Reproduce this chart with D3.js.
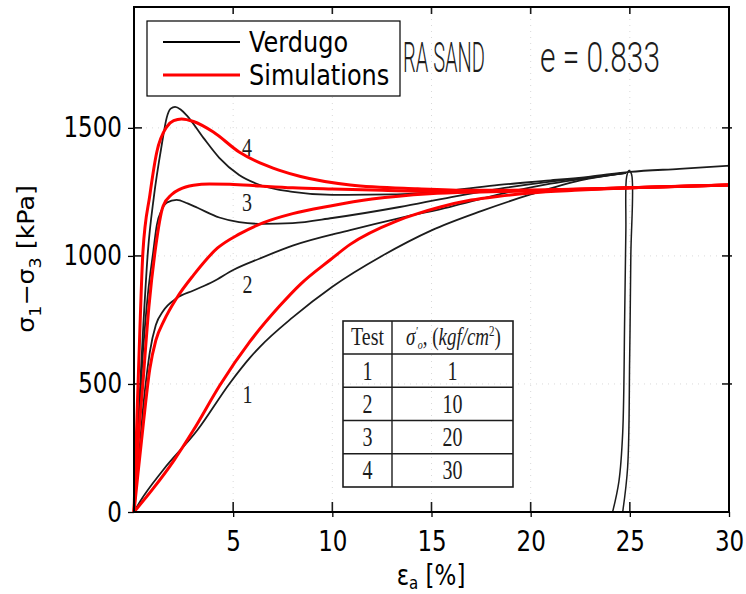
<!DOCTYPE html>
<html>
<head>
<meta charset="utf-8">
<script src="https://cdn.jsdelivr.net/npm/d3@7"></script>
<style>
  body { margin: 0; background: #fff; }
  svg { display: block; }
</style>
</head>
<body>
<svg id="chart" width="746" height="594"></svg>
<script>
// ---- data ---------------------------------------------------------------
const strainTicks = [5, 10, 15, 20, 25, 30];
const stressTicks = [0, 500, 1000, 1500];
const testIds = ["1", "2", "3", "4"];
const confiningPressure = ["1", "10", "20", "30"];   // kgf/cm2

// Verdugo triaxial tests: [axial strain %, deviator stress kPa]
const verdugo1 = [[0,0],[0.3,40],[1.47,164],[3.2,320],[4.84,504],[5.84,602],[6.35,645],[8,760],[10,880],[12.5,1000],[15,1100],[17.5,1175],[20,1240],[22.5,1295],[24.8,1324]];
const verdugo2 = [[0,0],[0.15,130],[0.3,265],[0.45,400],[0.65,540],[0.8,625],[1.1,730],[1.47,785],[2.15,835],[3,865],[4,900],[5,945],[6.35,990],[8,1040],[10.9,1101],[13.5,1150],[15.9,1191],[18.4,1240],[21,1282],[23,1305],[24.8,1324]];
const verdugo3 = [[0,0],[0.2,300],[0.45,620],[0.7,850],[0.97,1016],[1.15,1120],[1.4,1180],[1.65,1208],[2.15,1219],[2.7,1205],[3.2,1188],[4.3,1150],[5.3,1132],[6.5,1125],[8,1128],[10,1148],[13.4,1191],[16,1230],[18.4,1262],[21,1290],[23,1307],[24.8,1324]];
const verdugo4 = [[0,0],[0.2,330],[0.45,700],[0.7,1016],[1.0,1230],[1.4,1434],[1.65,1540],[1.85,1575],[2.07,1582],[2.35,1572],[2.67,1548],[3.5,1461],[4.3,1383],[5.3,1316],[6.35,1277],[8,1250],[10,1238],[13,1240],[16,1256],[18.4,1277],[21,1295],[23,1310],[25,1328],[27.5,1340],[30,1352]];
// unloading branch at the end of the test
const verdugoUnload = [[24.13,0],[24.45,120],[24.64,309],[24.74,762],[24.8,1100],[24.84,1310],[24.96,1334],[25.09,1318],[25.05,1000],[24.99,594],[24.89,176],[24.64,0]];

// model simulations
const sim1 = [[0,0],[1,95],[2,200],[3,320],[4.33,495],[5.84,665],[7.35,805],[8.4,890],[9.9,985],[10.9,1045],[13.2,1135],[14.3,1165],[15.4,1190],[17,1218],[18.4,1233],[20,1246],[22.5,1257],[25,1266],[27.5,1272],[30,1277]];
const sim2 = [[0,0],[0.2,150],[0.45,330],[0.8,560],[1.1,670],[1.5,745],[2.15,835],[3,925],[4.2,1030],[5.3,1085],[6.5,1129],[8,1165],[9.9,1195],[12,1222],[14.9,1243],[17.5,1250],[20,1254],[25,1266],[30,1277]];
const sim3 = [[0,0],[0.2,260],[0.45,504],[0.75,800],[1.06,1016],[1.47,1195],[1.9,1240],[2.3,1260],[3,1276],[3.8,1281],[4.84,1280],[6.35,1273],[8,1266],[10,1261],[12.5,1256],[15,1252],[17.5,1252],[20,1255],[25,1266],[30,1277]];
const sim4 = [[0,0],[0.15,370],[0.3,720],[0.45,1016],[0.8,1238],[1.15,1406],[1.65,1504],[2.0,1528],[2.4,1535],[3,1525],[4,1484],[5.3,1406],[6.35,1363],[7.3,1335],[8.4,1310],[10.9,1277],[14.3,1262],[17,1256],[20,1257],[25,1266],[30,1277]];

const verdugoSeries = [verdugo1, verdugo2, verdugo3, verdugo4];
const simSeries = [sim1, sim2, sim3, sim4];

// ---- layout -------------------------------------------------------------
const svg = d3.select("#chart");
const plot = { left: 134, right: 729, top: 7, bottom: 512 };
const yTop = 1972;

const x = d3.scaleLinear().domain([0, 30]).range([plot.left, plot.right]);
const y = d3.scaleLinear().domain([0, yTop]).range([plot.bottom, plot.top]);

const ink = "#1c1c1c";

// stretched text helper
function label(parent, px, py, txt, opts) {
  const o = Object.assign({ size: 20, family: "'Liberation Serif', serif", sx: 1, sy: 1.3, anchor: "middle", style: "normal", weight: "normal" }, opts || {});
  return parent.append("text")
    .attr("transform", `translate(${px},${py}) scale(${o.sx},${o.sy})`)
    .attr("text-anchor", o.anchor)
    .attr("font-family", o.family)
    .attr("font-size", o.size)
    .attr("font-style", o.style)
    .attr("font-weight", o.weight)
    .attr("fill", o.fill || ink)
    .text(txt);
}

// faint dotted grid of the printed sheet
const grid = svg.append("g").attr("stroke", "#d9d9d9").attr("stroke-width", 1).attr("stroke-dasharray", "1,5");
grid.selectAll("line.v").data([5,10,15,20,25]).join("line")
  .attr("x1", d => x(d)).attr("x2", d => x(d)).attr("y1", plot.top).attr("y2", plot.bottom);
grid.selectAll("line.h").data([500,1000,1500]).join("line")
  .attr("y1", d => y(d)).attr("y2", d => y(d)).attr("x1", plot.left).attr("x2", plot.right);

// printed inner tick marks
const inner = svg.append("g").attr("stroke", ink).attr("stroke-width", 1.6);
inner.selectAll("line.t").data([5,10,15,20,25]).join("line")
  .attr("x1", d => x(d)).attr("x2", d => x(d)).attr("y1", plot.top).attr("y2", plot.top + 7);
inner.selectAll("line.b").data([5,10,15,20,25]).join("line")
  .attr("x1", d => x(d)).attr("x2", d => x(d)).attr("y1", plot.bottom).attr("y2", plot.bottom - 10);
inner.selectAll("line.r").data([500,1000,1500]).join("line")
  .attr("y1", d => y(d)).attr("y2", d => y(d)).attr("x1", plot.right - 7).attr("x2", plot.right + 3);
inner.selectAll("line.l").data([500,1000,1500]).join("line")
  .attr("y1", d => y(d)).attr("y2", d => y(d)).attr("x1", plot.left).attr("x2", plot.left + 8);

// sheet title
const titleFont = "Roboto, 'Open Sans', sans-serif";
label(svg, 403, 72, "RA SAND", { family: titleFont, size: 22, sy: 1.95, anchor: "start", weight: 300 })
  .attr("textLength", 82).attr("lengthAdjust", "spacingAndGlyphs");
label(svg, 540, 72, "e = 0.833", { family: titleFont, size: 22, sy: 1.95, anchor: "start", weight: 300 })
  .attr("textLength", 120).attr("lengthAdjust", "spacingAndGlyphs");

// test table
const tbl = { left: 343, right: 513, top: 321, header: 354, bottom: 487, split: 392 };
const tg = svg.append("g");
const rowH = (tbl.bottom - tbl.header) / testIds.length;
tg.append("rect").attr("x", tbl.left).attr("y", tbl.top)
  .attr("width", tbl.right - tbl.left).attr("height", tbl.bottom - tbl.top)
  .attr("fill", "none").attr("stroke", ink).attr("stroke-width", 1.6);
tg.append("line").attr("x1", tbl.split).attr("x2", tbl.split).attr("y1", tbl.top).attr("y2", tbl.bottom)
  .attr("stroke", ink).attr("stroke-width", 1.4);
tg.selectAll("line.row").data(d3.range(testIds.length)).join("line")
  .attr("x1", tbl.left).attr("x2", tbl.right)
  .attr("y1", i => tbl.header + i * rowH).attr("y2", i => tbl.header + i * rowH)
  .attr("stroke", ink).attr("stroke-width", 1.4);
const colA = (tbl.left + tbl.split) / 2, colB = (tbl.split + tbl.right) / 2;
label(tg, colA, 345, "Test", { size: 20, sy: 1.3 });
const hdr = tg.append("text")
  .attr("transform", `translate(${colB + 1},345) scale(1,1.3)`)
  .attr("text-anchor", "middle").attr("font-family", "'Liberation Serif', serif")
  .attr("font-size", 19).attr("font-style", "italic").attr("fill", ink);
hdr.append("tspan").text("σ");
hdr.append("tspan").attr("font-size", 10).attr("dy", -8).text("′");
hdr.append("tspan").attr("font-size", 10).attr("dy", 11).text("o");
hdr.append("tspan").attr("dy", -3).attr("font-style", "normal").text(", (");
hdr.append("tspan").text("kgf/cm");
hdr.append("tspan").attr("font-size", 11).attr("dy", -7).attr("font-style", "normal").text("2");
hdr.append("tspan").attr("dy", 7).attr("font-style", "normal").text(")");
testIds.forEach((t, i) => {
  const cy = tbl.header + (i + 0.5) * rowH + 9;
  label(tg, colA, cy, t, { size: 20, sy: 1.35 });
  label(tg, colB, cy, confiningPressure[i], { size: 20, sy: 1.35 });
});

// curve numbers printed beside the test curves
const numberPos = [[5.72, 425], [5.72, 855], [5.7, 1175], [5.7, 1390]];
numberPos.forEach((p, i) => label(svg, x(p[0]), y(p[1]), testIds[i], { size: 20 }));

// experimental curves
const smooth = d3.line().x(d => x(d[0])).y(d => y(d[1])).curve(d3.curveMonotoneX);
svg.append("g").selectAll("path").data(verdugoSeries).join("path")
  .attr("d", smooth).attr("fill", "none").attr("stroke", ink).attr("stroke-width", 1.8);
svg.append("path").datum(verdugoUnload)
  .attr("d", d3.line().x(d => x(d[0])).y(d => y(d[1])).curve(d3.curveCatmullRom))
  .attr("fill", "none").attr("stroke", ink).attr("stroke-width", 1.5);

// simulated curves
svg.append("g").selectAll("path").data(simSeries).join("path")
  .attr("d", smooth).attr("fill", "none").attr("stroke", "#ff0000").attr("stroke-width", 3);

// frame
svg.append("rect").attr("x", plot.left).attr("y", plot.top)
  .attr("width", plot.right - plot.left).attr("height", plot.bottom - plot.top)
  .attr("fill", "none").attr("stroke", "#000").attr("stroke-width", 2);

// axes
const fontAxis = "'DejaVu Sans', sans-serif";
const gx = svg.append("g").attr("transform", `translate(0,${plot.bottom})`)
  .call(d3.axisBottom(x).tickValues(strainTicks).tickSize(5).tickSizeOuter(0).tickFormat(d3.format("d")));
const gy = svg.append("g").attr("transform", `translate(${plot.left},0)`)
  .call(d3.axisLeft(y).tickValues(stressTicks).tickSize(6).tickSizeOuter(0).tickFormat(d3.format("d")));
[gx, gy].forEach(g => {
  g.select(".domain").remove();
  g.selectAll("line").attr("stroke", "#000").attr("stroke-width", 1.3);
  g.selectAll("text").attr("font-family", fontAxis).attr("font-size", 23).attr("fill", "#000");
});
gx.selectAll("text").attr("y", 0).attr("dy", 0).attr("transform", "translate(0,39) scale(1,1.22)");
gy.selectAll("text").attr("x", 0).attr("dy", 0).attr("transform", "translate(-12,9) scale(1,1.25)");

// axis titles
const xt = svg.append("text").attr("transform", "translate(431,585) scale(1,1.2)")
  .attr("text-anchor", "middle").attr("font-family", fontAxis).attr("font-size", 23).attr("fill", "#000");
xt.append("tspan").text("ε");
xt.append("tspan").attr("font-size", 15).attr("dy", 3.5).text("a");
xt.append("tspan").attr("dy", -3.5).text(" [%]");

const yt = svg.append("text").attr("transform", "translate(34,259) rotate(-90) scale(1.1,1)")
  .attr("text-anchor", "middle").attr("font-family", fontAxis).attr("font-size", 23).attr("fill", "#000");
yt.append("tspan").text("σ");
yt.append("tspan").attr("font-size", 16).attr("dy", 7).text("1");
yt.append("tspan").attr("dy", -7).text("−σ");
yt.append("tspan").attr("font-size", 16).attr("dy", 7).text("3");
yt.append("tspan").attr("dy", -7).text(" [kPa]");

// legend
const lg = svg.append("g");
lg.append("rect").attr("x", 147).attr("y", 21).attr("width", 253).attr("height", 75)
  .attr("fill", "#fff").attr("stroke", "#000").attr("stroke-width", 1.2);
const legendItems = [{ name: "Verdugo", color: "#000", w: 2.2 }, { name: "Simulations", color: "#ff0000", w: 3 }];
legendItems.forEach((d, i) => {
  const ly = 42 + i * 33;
  lg.append("line").attr("x1", 163).attr("x2", 240).attr("y1", ly).attr("y2", ly)
    .attr("stroke", d.color).attr("stroke-width", d.w);
  label(lg, 249, ly + 10, d.name, { family: fontAxis, size: 24, sy: 1.15, anchor: "start", fill: "#000" });
});
</script>
</body>
</html>
